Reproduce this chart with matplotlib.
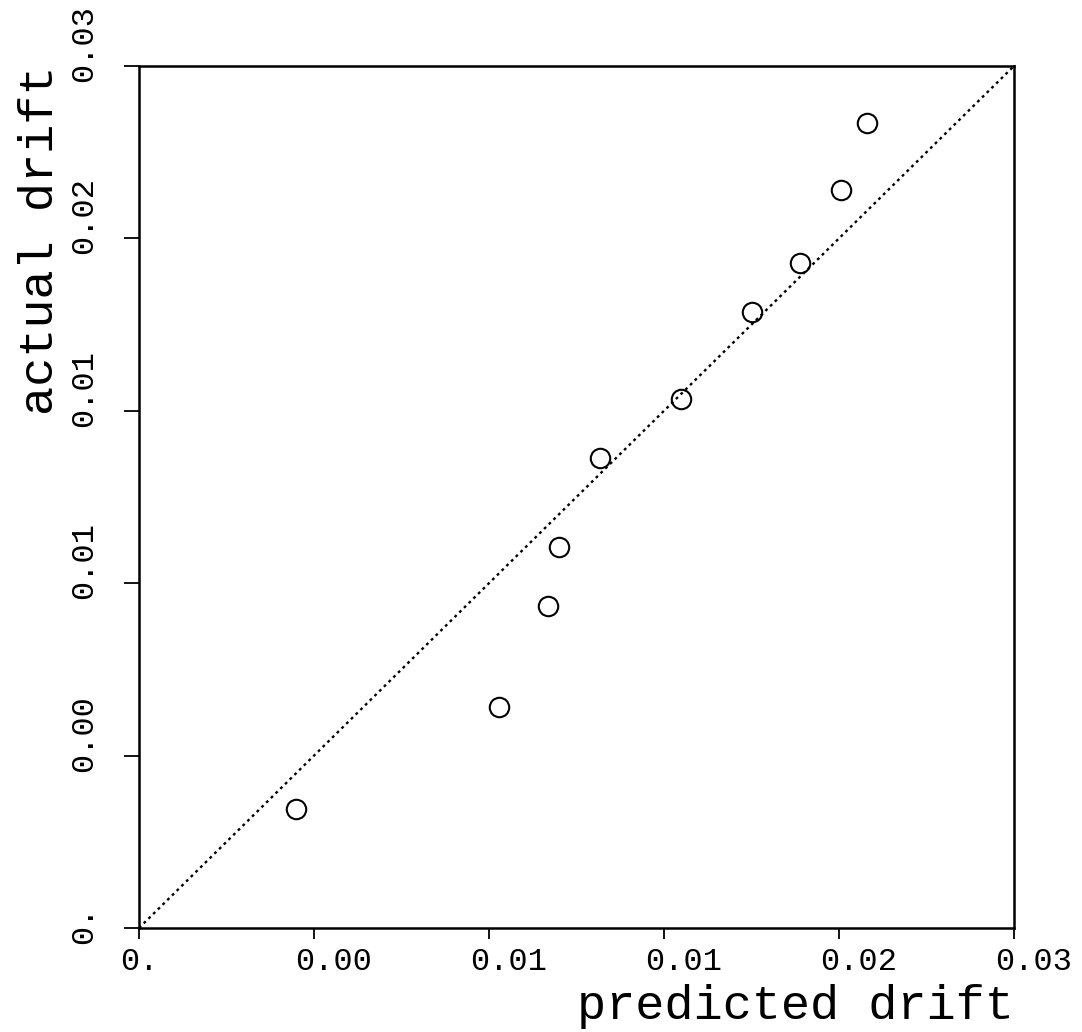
#!/usr/bin/env python3
# -*- coding: utf-8 -*-
"""
Predicted vs actual drift scatter
"""

import matplotlib
matplotlib.use("Agg")
import matplotlib.pyplot as plt
import matplotlib.transforms as mtransforms

# values
predicted = [0.00538, 0.01234, 0.01402, 0.01440, 0.01581,
             0.01858, 0.02102, 0.02266, 0.02407, 0.02496]
actual = [0.00414, 0.00769, 0.01121, 0.01326, 0.01636,
          0.01841, 0.02144, 0.02314, 0.02568, 0.02802]

tick_values = [0.0, 0.006, 0.012, 0.018, 0.024, 0.03]
tick_labels = ["0.", "0.00", "0.01", "0.01", "0.02", "0.03"]
axis_min, axis_max = 0.0, 0.03

FONT = ["Liberation Mono", "DejaVu Sans Mono"]


def create_chart():
    plt.rcParams['font.family'] = FONT
    fig = plt.figure(figsize=(10.82, 10.32), dpi=100)
    ax = fig.add_axes([0.1285, 0.1008, 0.8087, 0.8353])

    # 1:1 reference line
    ax.plot([axis_min, axis_max], [axis_min, axis_max], linestyle=(0, (1.2, 1.6)),
            color='black', linewidth=1.7)
    ax.plot(predicted, actual, linestyle='none', marker='o', markersize=14,
            markerfacecolor='none', markeredgecolor='black', markeredgewidth=1.5)

    ax.set_xlim(axis_min, axis_max)
    ax.set_ylim(axis_min, axis_max)

    ax.set_xticks(tick_values)
    ax.set_yticks(tick_values)
    ax.set_xticklabels(tick_labels, ha='left', fontsize=23)
    ax.set_yticklabels(tick_labels, rotation=90, va='bottom', fontsize=23)
    ax.tick_params(axis='x', direction='out', length=8, width=1.3, pad=6)
    ax.tick_params(axis='y', direction='out', length=11, width=1.3, pad=18)

    # labels start a little before their tick
    dx = mtransforms.ScaledTranslation(-19 / 100, 0, fig.dpi_scale_trans)
    for lbl in ax.get_xticklabels():
        lbl.set_transform(lbl.get_transform() + dx)
    dy = mtransforms.ScaledTranslation(0, -16 / 100, fig.dpi_scale_trans)
    for lbl in ax.get_yticklabels():
        lbl.set_transform(lbl.get_transform() + dy)

    for side in ['left', 'bottom', 'top', 'right']:
        ax.spines[side].set_linewidth(1.8)
        ax.spines[side].set_color('black')

    ax.set_xlabel('predicted drift', loc='right', fontsize=35, labelpad=5)
    ax.set_ylabel('actual drift', loc='top', fontsize=35, labelpad=4)

    fig.savefig("out.png", dpi=100, facecolor='white')
    plt.close(fig)


if __name__ == "__main__":
    create_chart()
